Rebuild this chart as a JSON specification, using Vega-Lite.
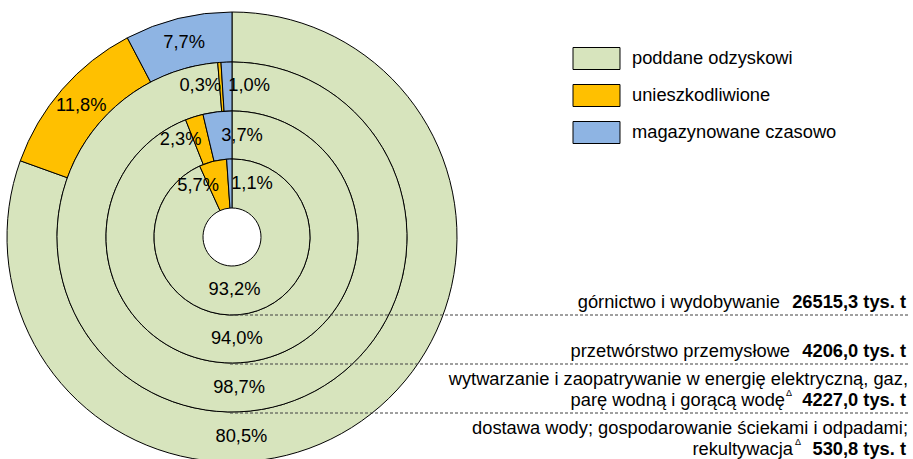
{
  "$schema": "https://vega.github.io/schema/vega-lite/v6.json",
  "width": 913,
  "height": 459,
  "autosize": "none",
  "padding": 0,
  "background": "white",
  "config": {
    "view": {"stroke": null},
    "font": "Liberation Sans",
    "text": {"font": "Liberation Sans", "fontSize": 18.3, "color": "black"}
  },
  "datasets": {
    "udzialy": [
      {"ring": 1, "kat": "poddane odzyskowi", "n": 1, "udzial": 93.2, "etykieta": "93,2%"},
      {"ring": 1, "kat": "unieszkodliwione", "n": 2, "udzial": 5.7, "etykieta": "5,7%"},
      {"ring": 1, "kat": "magazynowane czasowo", "n": 3, "udzial": 1.1, "etykieta": "1,1%"},
      {"ring": 2, "kat": "poddane odzyskowi", "n": 1, "udzial": 94.0, "etykieta": "94,0%"},
      {"ring": 2, "kat": "unieszkodliwione", "n": 2, "udzial": 2.3, "etykieta": "2,3%"},
      {"ring": 2, "kat": "magazynowane czasowo", "n": 3, "udzial": 3.7, "etykieta": "3,7%"},
      {"ring": 3, "kat": "poddane odzyskowi", "n": 1, "udzial": 98.7, "etykieta": "98,7%"},
      {"ring": 3, "kat": "unieszkodliwione", "n": 2, "udzial": 0.3, "etykieta": "0,3%"},
      {"ring": 3, "kat": "magazynowane czasowo", "n": 3, "udzial": 1.0, "etykieta": "1,0%"},
      {"ring": 4, "kat": "poddane odzyskowi", "n": 1, "udzial": 80.5, "etykieta": "80,5%"},
      {"ring": 4, "kat": "unieszkodliwione", "n": 2, "udzial": 11.8, "etykieta": "11,8%"},
      {"ring": 4, "kat": "magazynowane czasowo", "n": 3, "udzial": 7.7, "etykieta": "7,7%"}
    ],
    "sekcje": [
      {"ring": 1, "linia1": "", "nazwa": "górnictwo i wydobywanie", "delta": "", "suma": "26515,3 tys. t"},
      {"ring": 2, "linia1": "", "nazwa": "przetwórstwo przemysłowe", "delta": "", "suma": "4206,0 tys. t"},
      {"ring": 3, "linia1": "wytwarzanie i zaopatrywanie w energię elektryczną, gaz,", "nazwa": "parę wodną i gorącą wodę", "delta": "Δ", "suma": "4227,0 tys. t"},
      {"ring": 4, "linia1": "dostawa wody; gospodarowanie ściekami i odpadami;", "nazwa": "rekultywacja", "delta": "Δ", "suma": "530,8 tys. t"}
    ]
  },
  "layer": [
    {
      "data": {"name": "udzialy"},
      "transform": [{"filter": "datum.ring == 4"}],
      "mark": {"type": "arc", "x": 232, "y": 237, "radius": 225, "radius2": 175, "stroke": "black", "strokeWidth": 1},
      "encoding": {
        "theta": {"field": "udzial", "type": "quantitative", "stack": true, "scale": {"domain": [0, 100]}},
        "order": {"field": "n", "type": "quantitative"},
        "color": {
          "field": "kat", "type": "nominal",
          "scale": {"domain": ["poddane odzyskowi", "unieszkodliwione", "magazynowane czasowo"], "range": ["#D7E4BD", "#FFC000", "#8EB4E3"]},
          "legend": {"orient": "none", "legendX": 585, "legendY": 47, "title": null, "symbolType": "M-2.136,-1H2.136V1H-2.136Z", "symbolSize": 484, "symbolStrokeColor": "#404040", "symbolStrokeWidth": 1, "labelFontSize": 18.3, "labelFont": "Liberation Sans", "labelColor": "black", "labelOffset": 24, "rowPadding": 10, "padding": 0, "labelLimit": 300}
        }
      }
    },
    {
      "data": {"name": "udzialy"},
      "transform": [{"filter": "datum.ring == 3"}],
      "mark": {"type": "arc", "x": 232, "y": 237, "radius": 175, "radius2": 126, "stroke": "black", "strokeWidth": 1},
      "encoding": {
        "theta": {"field": "udzial", "type": "quantitative", "stack": true, "scale": {"domain": [0, 100]}},
        "order": {"field": "n", "type": "quantitative"},
        "color": {"field": "kat", "type": "nominal"}
      }
    },
    {
      "data": {"name": "udzialy"},
      "transform": [{"filter": "datum.ring == 2"}],
      "mark": {"type": "arc", "x": 232, "y": 237, "radius": 126, "radius2": 78, "stroke": "black", "strokeWidth": 1},
      "encoding": {
        "theta": {"field": "udzial", "type": "quantitative", "stack": true, "scale": {"domain": [0, 100]}},
        "order": {"field": "n", "type": "quantitative"},
        "color": {"field": "kat", "type": "nominal"}
      }
    },
    {
      "data": {"name": "udzialy"},
      "transform": [{"filter": "datum.ring == 1"}],
      "mark": {"type": "arc", "x": 232, "y": 237, "radius": 78, "radius2": 29, "stroke": "black", "strokeWidth": 1},
      "encoding": {
        "theta": {"field": "udzial", "type": "quantitative", "stack": true, "scale": {"domain": [0, 100]}},
        "order": {"field": "n", "type": "quantitative"},
        "color": {"field": "kat", "type": "nominal"}
      }
    },
    {
      "data": {"name": "sekcje"},
      "transform": [{"filter": "datum.ring < 4"}],
      "mark": {"type": "rule", "x": 230, "x2": 910, "strokeDash": [3, 2], "color": "#404040", "strokeWidth": 1},
      "encoding": {
        "y": {"field": "ring", "type": "quantitative", "scale": {"domain": [0, 4], "range": [266, 462], "zero": false, "nice": false}, "axis": null}
      }
    },
    {
      "data": {"name": "udzialy"},
      "mark": {"type": "text", "x": 232, "y": 237, "align": "right", "baseline": "middle", "dx": 0},
      "encoding": {
        "theta": {"field": "udzial", "type": "quantitative", "stack": true, "scale": {"domain": [0, 100]}},
        "radius": {"field": "ring", "type": "quantitative", "scale": {"type": "linear", "domain": [1, 4], "range": [53, 200], "zero": false}},
        "order": {"field": "n", "type": "quantitative"},
        "detail": {"field": "kat", "type": "nominal"},
        "text": {"condition": {"test": "datum.kat == 'unieszkodliwione' && datum.ring < 4", "field": "etykieta"}, "value": ""}
      }
    },
    {
      "data": {"name": "udzialy"},
      "mark": {"type": "text", "x": 232, "y": 237, "align": "left", "baseline": "middle", "dx": 1},
      "encoding": {
        "theta": {"field": "udzial", "type": "quantitative", "stack": true, "scale": {"domain": [0, 100]}},
        "radius": {"field": "ring", "type": "quantitative", "scale": {"type": "linear", "domain": [1, 4], "range": [53, 200], "zero": false}},
        "order": {"field": "n", "type": "quantitative"},
        "detail": {"field": "kat", "type": "nominal"},
        "text": {"condition": {"test": "datum.kat == 'magazynowane czasowo' && datum.ring < 4", "field": "etykieta"}, "value": ""}
      }
    },
    {
      "data": {"name": "udzialy"},
      "mark": {"type": "text", "x": 232, "y": 237, "align": "center", "baseline": "middle"},
      "encoding": {
        "theta": {"field": "udzial", "type": "quantitative", "stack": true, "scale": {"domain": [0, 100]}},
        "radius": {"field": "ring", "type": "quantitative", "scale": {"type": "linear", "domain": [1, 4], "range": [53, 200], "zero": false}},
        "order": {"field": "n", "type": "quantitative"},
        "detail": {"field": "kat", "type": "nominal"},
        "text": {"condition": {"test": "datum.kat != 'poddane odzyskowi' && datum.ring == 4", "field": "etykieta"}, "value": ""}
      }
    },
    {
      "data": {"name": "udzialy"},
      "transform": [{"filter": "datum.kat == 'poddane odzyskowi'"}],
      "mark": {"type": "text", "x": 232, "y": 237, "theta": 3.0945, "align": "center", "baseline": "middle"},
      "encoding": {
        "radius": {"field": "ring", "type": "quantitative", "stack": null, "scale": {"type": "linear", "domain": [1, 4], "range": [53, 200], "zero": false}},
        "text": {"field": "etykieta"}
      }
    },
    {
      "data": {"name": "sekcje"},
      "mark": {"type": "text", "x": 906, "align": "right", "baseline": "alphabetic", "dy": -7, "fontWeight": "bold"},
      "encoding": {
        "y": {"field": "ring", "type": "quantitative", "scale": {"domain": [0, 4], "range": [266, 462], "zero": false, "nice": false}, "axis": null},
        "text": {"field": "suma"}
      }
    },
    {
      "data": {"name": "sekcje"},
      "transform": [{"filter": "datum.ring >= 3"}],
      "mark": {"type": "text", "x": 908, "align": "right", "baseline": "alphabetic", "dy": -28},
      "encoding": {
        "y": {"field": "ring", "type": "quantitative", "scale": {"domain": [0, 4], "range": [266, 462], "zero": false, "nice": false}, "axis": null},
        "text": {"field": "linia1"}
      }
    },
    {
      "data": {"name": "sekcje"},
      "transform": [{"filter": "datum.ring == 1"}],
      "mark": {"type": "text", "x": 906, "dx": -126, "align": "right", "baseline": "alphabetic", "dy": -7},
      "encoding": {
        "y": {"field": "ring", "type": "quantitative", "scale": {"domain": [0, 4], "range": [266, 462], "zero": false, "nice": false}, "axis": null},
        "text": {"field": "nazwa"}
      }
    },
    {
      "data": {"name": "sekcje"},
      "transform": [{"filter": "datum.ring == 2"}],
      "mark": {"type": "text", "x": 906, "dx": -116, "align": "right", "baseline": "alphabetic", "dy": -7},
      "encoding": {
        "y": {"field": "ring", "type": "quantitative", "scale": {"domain": [0, 4], "range": [266, 462], "zero": false, "nice": false}, "axis": null},
        "text": {"field": "nazwa"}
      }
    },
    {
      "data": {"name": "sekcje"},
      "transform": [{"filter": "datum.ring == 3"}],
      "mark": {"type": "text", "x": 906, "dx": -121, "align": "right", "baseline": "alphabetic", "dy": -7},
      "encoding": {
        "y": {"field": "ring", "type": "quantitative", "scale": {"domain": [0, 4], "range": [266, 462], "zero": false, "nice": false}, "axis": null},
        "text": {"field": "nazwa"}
      }
    },
    {
      "data": {"name": "sekcje"},
      "transform": [{"filter": "datum.ring == 4"}],
      "mark": {"type": "text", "x": 906, "dx": -113, "align": "right", "baseline": "alphabetic", "dy": -7},
      "encoding": {
        "y": {"field": "ring", "type": "quantitative", "scale": {"domain": [0, 4], "range": [266, 462], "zero": false, "nice": false}, "axis": null},
        "text": {"field": "nazwa"}
      }
    },
    {
      "data": {"name": "sekcje"},
      "transform": [{"filter": "datum.ring == 3"}],
      "mark": {"type": "text", "x": 906, "dx": -114, "align": "right", "baseline": "alphabetic", "dy": -17, "fontSize": 9},
      "encoding": {
        "y": {"field": "ring", "type": "quantitative", "scale": {"domain": [0, 4], "range": [266, 462], "zero": false, "nice": false}, "axis": null},
        "text": {"field": "delta"}
      }
    },
    {
      "data": {"name": "sekcje"},
      "transform": [{"filter": "datum.ring == 4"}],
      "mark": {"type": "text", "x": 906, "dx": -105, "align": "right", "baseline": "alphabetic", "dy": -17, "fontSize": 9},
      "encoding": {
        "y": {"field": "ring", "type": "quantitative", "scale": {"domain": [0, 4], "range": [266, 462], "zero": false, "nice": false}, "axis": null},
        "text": {"field": "delta"}
      }
    }
  ]
}
